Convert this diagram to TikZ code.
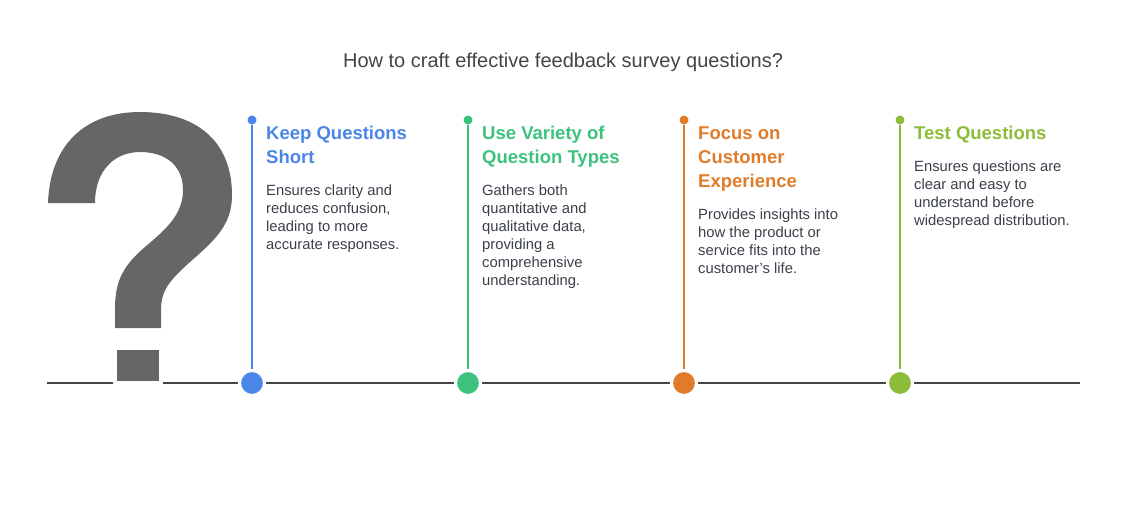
\documentclass[tikz,border=0pt]{standalone}
\usepackage{fontspec}
\setmainfont{Liberation Sans}
\definecolor{cA}{HTML}{4A86E8}
\definecolor{cB}{HTML}{3DC27E}
\definecolor{cC}{HTML}{E07B2A}
\definecolor{cD}{HTML}{8DBB3A}
\definecolor{qm}{HTML}{666666}
\definecolor{ln}{HTML}{444444}
\definecolor{tx}{HTML}{3A3F4A}
\begin{document}
\begin{tikzpicture}[x=1pt,y=-1pt,
  head/.style={anchor=base west,inner sep=0,align=left,font=\fontsize{18.5}{24}\selectfont\bfseries},
  body/.style={anchor=base west,inner sep=0,align=left,text=tx,font=\fontsize{14.8}{18}\selectfont},
  big/.style={circle,inner sep=0,minimum size=25,draw=white,line width=3},
  small/.style={circle,inner sep=0,minimum size=9}]
\useasboundingbox (0,0) rectangle (1126,504);
\node[anchor=base,inner sep=0,text=ln,font=\fontsize{20}{24}\selectfont] (title) at (563,67) {How to craft effective feedback survey questions?};
\coordinate (L) at (47,383); \coordinate (R) at (1080,383);
\draw[ln,line width=2] (L) -- (R);
\fill[qm] (48,203) -- (95,203) .. controls (95,170) and (115,152) .. (140,152) .. controls (165,152) and (183,165) .. (183,190) .. controls (183,215) and (165,230) .. (145,247) .. controls (120,268) and (115,285) .. (115,310) -- (115,328) -- (161,328) -- (161,310) .. controls (161,290) and (170,280) .. (190,262) .. controls (215,240) and (232,225) .. (232,195) .. controls (232,140) and (195,112) .. (140,112) .. controls (85,112) and (50,145) .. (48,203) -- cycle;
\filldraw[fill=qm,draw=white,line width=4] (115,348) rectangle (161,383);
\foreach \n/\x/\c in {a/252/cA,b/468/cB,c/684/cC,d/900/cD}{
  \node[small,fill=\c] (t\n) at (\x,120) {};
  \node[big,fill=\c] (b\n) at (\x,383) {};
  \draw[\c,line width=2] (t\n) -- (b\n);
}
\node[head,text=cA] (h1) at (266,163) {Keep Questions\\Short};
\node[body] (p1) at (266,249) {Ensures clarity and\\reduces confusion,\\leading to more\\accurate responses.};
\node[head,text=cB] (h2) at (482,163) {Use Variety of\\Question Types};
\node[body] (p2) at (482,285) {Gathers both\\quantitative and\\qualitative data,\\providing a\\comprehensive\\understanding.};
\node[head,text=cC] (h3) at (698,187) {Focus on\\Customer\\Experience};
\node[body] (p3) at (698,273) {Provides insights into\\how the product or\\service fits into the\\customer's life.};
\node[head,text=cD] (h4) at (914,139) {Test Questions};
\node[body] (p4) at (914,225) {Ensures questions are\\clear and easy to\\understand before\\widespread distribution.};
\end{tikzpicture}
\end{document}
